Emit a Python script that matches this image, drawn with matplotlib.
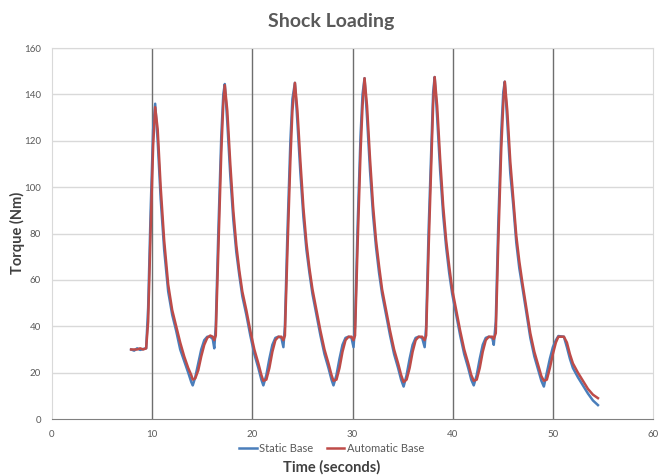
import matplotlib
matplotlib.use("Agg")
import matplotlib.pyplot as plt

# Time axis (seconds), shared by both series
time_s = [
    7.9, 8.2, 8.5, 8.8, 9.1, 9.4, 9.6, 9.85, 10.1, 10.3, 10.55, 10.85, 11.2, 11.6, 12.0, 12.4, 12.8,
    13.2, 13.6, 13.9, 14.05, 14.3, 14.6, 14.9, 15.2, 15.5, 15.8, 16.05, 16.2, 16.35, 16.6, 16.9, 17.1,
    17.25, 17.5, 17.8, 18.1, 18.4, 18.7, 19.0, 19.4, 19.8, 20.2, 20.6, 20.9, 21.1, 21.4, 21.7, 22.0,
    22.3, 22.6, 22.9, 23.1, 23.25, 23.5, 23.8, 24.0,
    24.25, 24.5, 24.8, 25.1, 25.4, 25.7, 26.0, 26.4, 26.8, 27.2, 27.6, 27.9, 28.1, 28.4, 28.7, 29.0,
    29.3, 29.6, 29.9, 30.1, 30.25, 30.5, 30.8, 31.0,
    31.2, 31.45, 31.75, 32.05, 32.35, 32.65, 32.95, 33.35, 33.75, 34.15, 34.55, 34.85, 35.1, 35.4,
    35.7, 36.0, 36.3, 36.6, 36.95, 37.2, 37.35, 37.6, 37.9, 38.05,
    38.2, 38.45, 38.75, 39.05, 39.35, 39.65, 39.95, 40.35, 40.75, 41.15, 41.55, 41.85, 42.1, 42.4,
    42.7, 43.0, 43.3, 43.6, 43.95, 44.1, 44.3, 44.55, 44.85, 45.05,
    45.2, 45.45, 45.75, 46.05, 46.35, 46.65, 46.95, 47.35, 47.75, 48.15, 48.55, 48.85, 49.1, 49.4,
    49.7, 50.0, 50.3, 50.55, 51.1, 51.4, 51.7, 52.0, 52.5, 53.0, 53.5, 54.0, 54.5,
]

static_base = [
    30, 29.5, 30.5, 29.8, 30.2, 30.5, 48, 90, 125, 136, 120, 95, 73, 55, 45, 38, 30,
    25, 20, 16, 14.5, 18, 24, 30, 34, 35.5, 35.5, 34.5, 30.5, 40, 80, 122, 140,
    144.5, 128, 105, 86, 72, 62, 53, 45, 36, 28, 22, 17, 14.5, 19, 26, 32,
    35, 35.5, 35, 31, 40, 80, 120, 138,
    145, 128, 106, 87, 73, 63, 54, 45, 36, 28, 22, 17, 14.5, 19, 26, 32,
    35, 35.5, 35, 31, 40, 82, 122, 140,
    147, 130, 107, 88, 74, 63, 54, 45, 36, 28, 22, 17, 14, 19,
    26, 32, 35, 35.5, 35, 31, 40, 82, 122, 141,
    147.5, 130, 107, 88, 74, 63, 54, 45, 36, 28, 22, 17, 14.5, 19,
    26, 32, 35, 35.5, 35, 32, 42, 84, 124, 141,
    145.5, 128, 106, 92, 76, 65, 57, 46, 35, 27, 21, 16.5, 14, 20,
    26, 31, 34, 35.8, 35.5, 31, 26, 22, 18, 14.5, 11, 8, 6,
]

automatic_base = [
    30, 30, 30, 30.5, 30, 30.5, 42, 82, 118, 134.5, 125, 100, 77, 58, 47, 40, 33,
    27, 22, 19, 17, 17.5, 21, 27, 32, 35, 36, 35.5, 34, 36, 72, 115, 136,
    144, 133, 110, 90, 75, 64, 55, 47, 38, 30, 24, 19, 16.5, 17, 22, 29,
    34, 35.5, 35.5, 34, 36, 72, 112, 133,
    145, 133, 111, 91, 76, 65, 56, 47, 38, 30, 24, 19, 16.5, 17, 22, 29,
    34, 35.5, 35.5, 34, 36, 74, 115, 135,
    147, 135, 112, 92, 77, 66, 56, 47, 38, 30, 24, 19, 16, 17,
    22, 29, 34, 35.5, 35.5, 34, 36, 74, 115, 136,
    147.5, 135, 112, 92, 77, 66, 56, 47, 38, 30, 24, 19, 16.5, 17,
    22, 29, 34, 35.5, 35.5, 34.5, 37, 76, 117, 136,
    145.5, 133, 111, 95, 79, 68, 59, 48, 37, 29, 23, 18.5, 16.5, 17,
    22, 28, 33, 35.5, 35.5, 33, 28, 24, 20, 16.5, 13, 10.5, 9,
]

x_ticks = [0, 10, 20, 30, 40, 50, 60]
y_ticks = [0, 20, 40, 60, 80, 100, 120, 140, 160]

plt.rcParams["font.family"] = ["Lato", "DejaVu Sans"]

fig = plt.figure(figsize=(6.63, 4.76), dpi=100)
ax = fig.add_axes([0.0784, 0.1197, 0.9066, 0.7793])

# light horizontal grid, dark vertical grid
for y in y_ticks[1:]:
    ax.axhline(y, color="#d9d9d9", linewidth=1.0, zorder=0)
for x in x_ticks[1:-1]:
    ax.axvline(x, color="#6e6e6e", linewidth=1.0, zorder=0)

ax.plot(time_s, static_base, color="#4a7ebb", linewidth=1.8, label="Static Base", zorder=2)
ax.plot(time_s, automatic_base, color="#be4b48", linewidth=1.8, label="Automatic Base", zorder=3)

ax.set_xlim(0, 60)
ax.set_ylim(0, 160)
ax.set_xticks(x_ticks)
ax.set_yticks(y_ticks)
ax.tick_params(length=0, labelsize=7, labelcolor="#595959", pad=8)

for side in ["left", "right", "top"]:
    ax.spines[side].set_color("#d9d9d9")
ax.spines["bottom"].set_color("#808080")

fig.text(0.5, 0.955, "Shock Loading", ha="center", va="center",
         fontsize=14, fontweight="bold", color="#595959")
fig.text(0.5, 0.018, "Time (seconds)", ha="center", va="center",
         fontsize=10.5, fontweight="bold", color="#404040")
fig.text(0.027, 0.51, "Torque (Nm)", ha="center", va="center", rotation=90,
         fontsize=10.5, fontweight="bold", color="#404040")

leg = fig.legend(loc="center", bbox_to_anchor=(0.5, 0.058), ncol=2, frameon=False,
                 fontsize=8, handlelength=1.6, handletextpad=0.2, columnspacing=1.2)
for txt in leg.get_texts():
    txt.set_color("#595959")

fig.savefig("out.png", dpi=100)
